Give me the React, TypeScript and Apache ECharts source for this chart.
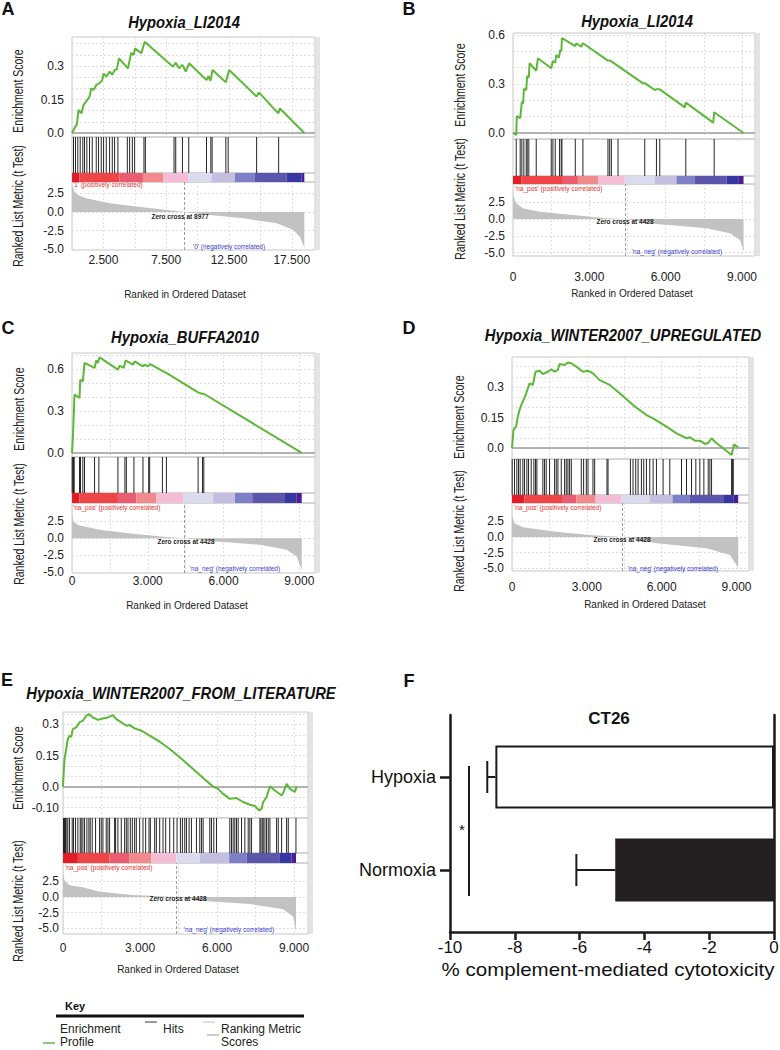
import React, { useEffect, useRef } from "react";
import * as echarts from "echarts";

const FONT = "'Liberation Sans', Arial, Helvetica, sans-serif";

// ================= DATA =================
// Panel A - Hypoxia_LI2014 ('1' vs '0')
const esA: number[][] = [
  [0, 0], [255, 0.028], [383, 0.036], [519, 0.103], [758, 0.088], [918, 0.125], [1213, 0.148], [1397, 0.163],
  [1532, 0.2], [1740, 0.193], [1931, 0.215], [2195, 0.223], [2410, 0.237], [2514, 0.267], [2729, 0.252],
  [2993, 0.275], [3208, 0.26], [3392, 0.282], [3575, 0.285], [3735, 0.334], [4453, 0.29], [4725, 0.36],
  [4908, 0.349], [5012, 0.379], [5523, 0.357], [5786, 0.409], [8045, 0.297], [8260, 0.315], [8523, 0.29],
  [8795, 0.305], [9058, 0.275], [9322, 0.312], [10710, 0.237], [10870, 0.255], [11030, 0.234], [11189, 0.282],
  [12251, 0.227], [12514, 0.282], [14701, 0.163], [14884, 0.182], [16425, 0.088], [16560, 0.11], [18500, 0],
];
const hitsA = [120, 279, 463, 654, 862, 998, 1181, 1397, 1612, 1931, 2115, 2330, 2514, 2729, 2993, 3208, 3392,
  3655, 4405, 4589, 4804, 4988, 5730, 5842, 8124, 8260, 8795, 9298, 10710, 11054, 11157, 12251, 12434, 14701, 16456];
const metricA: number[][] = [
  [0, 3.65], [200, 2.74], [460, 2.3], [1130, 1.85], [3000, 1.17], [5650, 0.63], [8977, 0], [10970, -0.4],
  [13630, -0.85], [16300, -1.53], [17620, -2.43], [18150, -3.33], [18420, -4.45], [18500, -4.9],
];
const colorBreaksA = [0, 599, 3791, 5650, 7247, 9242, 11110, 12969, 14565, 17095, 18292, 18500];
const zeroCrossA = 8977;

// Panel B - Hypoxia_LI2014 (na_pos vs na_neg)
const esB: number[][] = [
  [0, 0], [126, -0.012], [150, 0.104], [283, 0.09], [348, 0.19], [400, 0.18], [426, 0.27], [520, 0.263],
  [558, 0.349], [622, 0.34], [650, 0.427], [913, 0.381], [978, 0.457], [1503, 0.396], [1568, 0.44], [1660, 0.43],
  [1700, 0.477], [1805, 0.461], [1858, 0.508], [1900, 0.5], [1923, 0.58], [2448, 0.532], [2488, 0.549],
  [2684, 0.528], [2748, 0.549], [3732, 0.443], [3799, 0.443], [3865, 0.438], [5110, 0.304], [5177, 0.305],
  [5571, 0.263], [5637, 0.268], [5768, 0.267], [6752, 0.157], [6791, 0.186], [7866, 0.063], [7906, 0.127], [9060, 0],
];
const hitsB = [126, 283, 348, 426, 520, 558, 622, 913, 1503, 1568, 1660, 1830, 1896, 1923, 2448, 2748, 3732, 3799,
  3865, 4127, 5177, 5637, 5768, 6791, 7906];
const metricB: number[][] = [
  [0, 3.57], [126, 2.33], [386, 1.59], [1043, 1.09], [2354, 0.6], [3669, 0.1], [4428, 0], [5637, -0.74],
  [7606, -1.38], [8524, -2.13], [8917, -3.12], [9047, -4.6], [9060, -5.0],
];
const colorBreaksB = [0, 323, 1961, 2551, 3339, 4390, 5571, 6425, 7146, 8394, 8850, 9060];
const zeroCrossB = 4428;

// Panel C - Hypoxia_BUFFA2010
const esC: number[][] = [
  [0, 0], [33, 0.107], [60, 0.226], [99, 0.416], [298, 0.393], [325, 0.523], [429, 0.511], [496, 0.643],
  [893, 0.607], [960, 0.661], [1025, 0.643], [1091, 0.683], [1818, 0.595], [1885, 0.623], [2044, 0.607],
  [2123, 0.661], [2414, 0.63], [2480, 0.654], [2810, 0.619], [2870, 0.63], [3008, 0.619], [3103, 0.635],
  [3540, 0.59], [3603, 0.583], [3700, 0.575], [4992, 0.433], [5127, 0.423], [5218, 0.423], [9095, 0],
];
const hitsC = [8, 33, 60, 87, 298, 337, 429, 496, 893, 1064, 1818, 2095, 2151, 2452, 2810, 3036, 3075, 3579, 3738,
  4992, 5167, 5218];
const metricC: number[][] = [
  [0, 3.45], [60, 2.47], [230, 1.98], [1091, 1.25], [2413, 0.66], [3738, 0.18], [4428, 0], [5722, -0.47],
  [7440, -0.96], [8500, -1.69], [8897, -2.67], [9067, -4.38], [9095, -4.8],
];
const colorBreaksC = [0, 298, 1818, 2548, 3341, 4397, 5587, 6448, 7135, 8433, 8897, 9095];
const zeroCrossC = 4428;

// Panel D - Hypoxia_WINTER2007_UPREGULATED
const esD: number[][] = [
  [0, 0], [32, 0.048], [60, 0.089], [169, 0.108], [233, 0.154], [301, 0.187], [369, 0.211], [462, 0.236],
  [570, 0.269], [703, 0.318], [835, 0.31], [944, 0.375], [1104, 0.38], [1237, 0.364], [1438, 0.375],
  [1574, 0.387], [1707, 0.375], [1839, 0.384], [1908, 0.413], [2108, 0.408], [2241, 0.42], [2378, 0.417],
  [2578, 0.4], [2843, 0.375], [3044, 0.38], [3245, 0.367], [3514, 0.334], [3916, 0.31], [4317, 0.269],
  [4851, 0.211], [5390, 0.162], [5655, 0.146], [6193, 0.105], [6594, 0.072], [6996, 0.048], [7129, 0.053],
  [7329, 0.036], [7530, 0.036], [7731, 0.02], [7865, 0.025], [8000, 0.048], [8133, 0.031], [8803, -0.034],
  [8896, 0.018], [9068, 0.003],
];
const hitsD = [8, 100, 194, 262, 328, 435, 502, 596, 663, 770, 877, 944, 997, 1238, 1305, 1372, 1506, 1707, 1774,
  1841, 1975, 2108, 2175, 2242, 2309, 2377, 2778, 2871, 2979, 3046, 3245, 3313, 3808, 3849, 4746, 4852, 4960, 5054,
  5187, 5281, 5389, 5522, 5656, 5790, 6057, 6325, 6794, 6995, 7196, 7369, 7530, 7691, 7865, 7932, 7999, 8802, 8842, 8869];
const metricD: number[][] = [
  [0, 3.5], [100, 2.18], [434, 1.54], [1775, 0.84], [3112, 0.32], [4428, 0], [5791, -1.0], [7799, -1.8],
  [8735, -2.86], [9044, -4.72], [9068, -5.0],
];
const colorBreaksD = [0, 502, 2040, 2578, 3353, 4386, 5522, 6434, 7129, 8466, 8868, 9068];
const zeroCrossD = 4428;

// Panel E - Hypoxia_WINTER2007_FROM_LITERATURE
const esE: number[][] = [
  [0, 0], [20, 0.054], [59, 0.134], [125, 0.182], [187, 0.23], [254, 0.246], [320, 0.24], [382, 0.278],
  [515, 0.286], [644, 0.31], [773, 0.318], [905, 0.342], [1007, 0.35], [1163, 0.334], [1358, 0.322],
  [1553, 0.329], [1748, 0.334], [1943, 0.345], [2076, 0.326], [2271, 0.31], [2466, 0.294], [2595, 0.297],
  [2790, 0.281], [3051, 0.27], [3375, 0.246], [3765, 0.217], [4155, 0.182], [4545, 0.142], [5065, 0.086],
  [5455, 0.042], [5845, 0.001], [6040, -0.01], [6235, -0.034], [6496, -0.058], [6758, -0.054], [7015, -0.073],
  [7277, -0.086], [7472, -0.092], [7640, -0.114], [7733, -0.105], [7796, -0.073], [7928, -0.049], [8057, 0.003],
  [8252, -0.018], [8513, -0.042], [8576, -0.029], [8709, 0.014], [8837, -0.01], [8942, -0.018], [9032, -0.025],
  [9098, 0.003],
];
const hitsE = [20, 59, 98, 150, 189, 254, 358, 410, 488, 579, 670, 709, 774, 839, 930, 1008, 1060, 1138, 1268, 1424,
  1489, 1554, 1684, 1749, 1814, 2009, 2048, 2139, 2269, 2399, 2465, 2530, 2621, 2699, 2790, 2855, 2985, 3115, 3218,
  3349, 3401, 3570, 3635, 3765, 3895, 3999, 4155, 4311, 4441, 4572, 4650, 4741, 4806, 4910, 5001, 5196, 5325, 5391,
  5456, 5716, 5781, 5872, 5976, 6496, 6561, 6626, 6691, 6756, 6821, 6951, 7081, 7211, 7276, 7342, 7667, 7706, 7758,
  7797, 7862, 7927, 7992, 8057, 8317, 8382, 8512, 8707, 8772, 9071];
const metricE: number[][] = [
  [0, 3.9], [59, 2.7], [254, 1.9], [774, 1.55], [1424, 0.85], [2723, 0.32], [4026, 0.1], [4428, 0],
  [5326, -0.6], [7277, -1.12], [8576, -1.97], [8966, -3.15], [9072, -5.5],
];
const colorBreaksE = [0, 578, 1814, 2595, 3441, 4417, 5326, 6470, 7148, 8447, 8904, 9072];
const zeroCrossE = 4428;

const gseaTitles = ["Hypoxia_LI2014", "Hypoxia_LI2014", "Hypoxia_BUFFA2010", "Hypoxia_WINTER2007_UPREGULATED",
  "Hypoxia_WINTER2007_FROM_LITERATURE"];
const panelLetters = ["A", "B", "C", "D", "E"];
const esTickLabelsA = [0, 0.15, 0.3];
const esTickLabelsB = [0, 0.3, 0.6];
const esTickLabelsC = [0, 0.3, 0.6];
const esTickLabelsD = [0, 0.15, 0.3];
const esTickLabelsE = [-0.1, 0, 0.15, 0.3];
const metricTickLabels = [-5, -2.5, 0, 2.5];
const rankTickLabelsA = [2500, 7500, 12500, 17500];
const rankTickLabels = [0, 3000, 6000, 9000];

// Panel F - CT26
const fCategories = ["Hypoxia", "Normoxia"];
const fMeans = [-8.6, -4.9];
const fSem = [0.25, 1.2];

// ================= LAYOUT / STYLE =================
const GREEN = "#5db83a";
const CB_COLORS = ["#e31d25", "#ef4547", "#ea5d70", "#f28a8c", "#f5bcd6", "#dcdbee", "#c4bee0", "#7d80c6",
  "#5b56ab", "#3737a3", "#4b1e96"];
const GRID_BORDER = "#c8c8c8";
const GRID_LINE = { color: "#dedede", type: [2, 2], width: 1 };

const PANELS = [
  { es: esA, hits: hitsA, metric: metricA, cb: colorBreaksA, zc: zeroCrossA, esLabels: esTickLabelsA, xLabels: rankTickLabelsA, pos: "'1' (positively correlated)", neg: "'0' (negatively correlated)" },
  { es: esB, hits: hitsB, metric: metricB, cb: colorBreaksB, zc: zeroCrossB, esLabels: esTickLabelsB, xLabels: rankTickLabels, pos: "'na_pos' (positively correlated)", neg: "'na_neg' (negatively correlated)" },
  { es: esC, hits: hitsC, metric: metricC, cb: colorBreaksC, zc: zeroCrossC, esLabels: esTickLabelsC, xLabels: rankTickLabels, pos: "'na_pos' (positively correlated)", neg: "'na_neg' (negatively correlated)" },
  { es: esD, hits: hitsD, metric: metricD, cb: colorBreaksD, zc: zeroCrossD, esLabels: esTickLabelsD, xLabels: rankTickLabels, pos: "'na_pos' (positively correlated)", neg: "'na_neg' (negatively correlated)" },
  { es: esE, hits: hitsE, metric: metricE, cb: colorBreaksE, zc: zeroCrossE, esLabels: esTickLabelsE, xLabels: rankTickLabels, pos: "'na_pos' (positively correlated)", neg: "'na_neg' (negatively correlated)" },
];

const LAYOUT = [
  { left: 72, right: 315, esTop: 37, esBot: 137, cbTop: 173, cbBot: 182, metBot: 250, esMin: -0.018, esMax: 0.43, esStep: 0.05, metMin: -5.13, metMax: 4.05, xMax: 19350, xStep: 2500, xMargin: 4, yMargin: 8,
    letter: [8, 9], title: [184, 22], esName: [18, 91], metName: [18, 206], xName: [185, 294], posT: [73, 184.5], zcT: [180, 216], negT: [229, 246] },
  { left: 513, right: 755, esTop: 33, esBot: 139, cbTop: 176, cbBot: 184, metBot: 256, esMin: -0.037, esMax: 0.612, esStep: 0.1, metMin: -5.5, metMax: 5.2, xMax: 9510, xStep: 1500, xMargin: 15, yMargin: 8,
    letter: [409, 9], title: [637, 21], esName: [460, 85], metName: [460, 199], xName: [632, 293], posT: [515, 188.5], zcT: [625, 221], negT: [677, 251] },
  { left: 72, right: 315, esTop: 353, esBot: 457, cbTop: 493, cbBot: 503, metBot: 573, esMin: -0.029, esMax: 0.714, esStep: 0.1, metMin: -5.1, metMax: 5.2, xMax: 9620, xStep: 1500, xMargin: 2, yMargin: 8,
    letter: [8, 328], title: [185, 337], esName: [19, 409], metName: [19, 524], xName: [187, 605], posT: [73, 507], zcT: [186, 541], negT: [235, 568] },
  { left: 512, right: 749, esTop: 357, esBot: 459, cbTop: 495, cbBot: 503, metBot: 571, esMin: -0.054, esMax: 0.4475, esStep: 0.05, metMin: -5.4, metMax: 5.4, xMax: 9500, xStep: 1500, xMargin: 10, yMargin: 8,
    letter: [409, 328], title: [623, 335], esName: [459, 417], metName: [459, 531], xName: [645, 604], posT: [514, 507.5], zcT: [622, 539.5], negT: [673, 568] },
  { left: 63, right: 308, esTop: 712, esBot: 818, cbTop: 853, cbBot: 863, metBot: 934, esMin: -0.15, esMax: 0.36, esStep: 0.05, metMin: -5.92, metMax: 5.44, xMax: 9540, xStep: 1500, xMargin: 8, yMargin: 4,
    letter: [7, 680], title: [181, 693], esName: [18, 768], metName: [18, 901], xName: [178, 969], posT: [65, 867], zcT: [178, 898], negT: [229, 929.5] },
];

// ================= HELPERS =================
function fmtRank(v: number) {
  if (v === 0) return "0";
  return String(Math.round(v)).replace(/\B(?=(\d{3})+(?!\d))/g, ".");
}
function fmtES(v: number) {
  const r = Math.round(v * 100) / 100;
  if (r === 0) return "0.0";
  if (r === -0.1) return "-0.10";
  return String(r);
}
function fmtMetric(v: number) {
  return (Math.round(v * 10) / 10).toFixed(1);
}
function gridSteps(min: number, max: number, step: number) {
  const out: number[] = [];
  const start = Math.ceil(min / step - 1e-6);
  for (let k = start; k * step <= max + 1e-9; k++) out.push(Math.round(k * step * 10000) / 10000);
  return out;
}
function txt(text: string, x: number, y: number, o: any = {}) {
  const align = o.align || "center";
  return {
    type: "text", x, y, rotation: o.rot || 0, scaleX: o.sx || 1, silent: true, z: 50,
    style: {
      text, fontSize: o.fs || 12, fontFamily: FONT, fontWeight: o.fw || "normal", fontStyle: o.it ? "italic" : "normal",
      fill: o.color || "#111", textAlign: align, align, textVerticalAlign: "middle", verticalAlign: "middle",
    },
  };
}
function ln(x1: number, y1: number, x2: number, y2: number, stroke: string, lineWidth: number) {
  return { type: "line", silent: true, z: 50, shape: { x1, y1, x2, y2 }, style: { stroke, lineWidth } };
}

function buildOption() {
  const grid: any[] = [];
  const xAxis: any[] = [];
  const yAxis: any[] = [];
  const series: any[] = [];
  const elements: any[] = [];

  PANELS.forEach((p, i) => {
    const L = LAYOUT[i];
    const w = L.right - L.left;
    const rows = [[L.esTop, L.esBot], [L.esBot, L.cbTop], [L.cbTop, L.cbBot], [L.cbBot, L.metBot]];
    rows.forEach(([t, b]) =>
      grid.push({ left: L.left, top: t, width: w, height: b - t, show: true, borderColor: GRID_BORDER, borderWidth: 1, backgroundColor: "transparent", containLabel: false, outerBoundsMode: "none" })
    );
    const gi = i * 4;
    for (let k = 0; k < 4; k++) {
      xAxis.push({
        type: "value", gridIndex: gi + k, min: 0, max: L.xMax, interval: L.xStep,
        axisLine: { show: false, onZero: false }, axisTick: { show: false },
        axisLabel: k === 3
          ? { show: true, customValues: p.xLabels, formatter: fmtRank, fontSize: 12, color: "#222", fontFamily: FONT, margin: L.xMargin }
          : { show: false },
        splitLine: { show: k === 0 || k === 3, lineStyle: GRID_LINE },
      });
    }
    yAxis.push({
      type: "value", gridIndex: gi, min: L.esMin, max: L.esMax,
      axisLine: { show: false, onZero: false },
      axisTick: { show: false, customValues: gridSteps(L.esMin, L.esMax, L.esStep) },
      axisLabel: { customValues: p.esLabels, formatter: fmtES, fontSize: 12, color: "#222", fontFamily: FONT, margin: L.yMargin },
      splitLine: { show: true, lineStyle: GRID_LINE },
    });
    yAxis.push({ type: "value", gridIndex: gi + 1, min: 0, max: 1, show: false });
    yAxis.push({ type: "value", gridIndex: gi + 2, min: 0, max: 1, show: false });
    yAxis.push({
      type: "value", gridIndex: gi + 3, min: L.metMin, max: L.metMax,
      axisLine: { show: false, onZero: false },
      axisTick: { show: false, customValues: metricTickLabels },
      axisLabel: { customValues: metricTickLabels, formatter: fmtMetric, fontSize: 12, color: "#222", fontFamily: FONT, margin: L.yMargin },
      splitLine: { show: true, lineStyle: GRID_LINE },
    });

    // enrichment score
    series.push({
      type: "line", xAxisIndex: gi, yAxisIndex: gi, data: p.es, showSymbol: false, symbol: "none", z: 5,
      lineStyle: { color: GREEN, width: 2 },
      markLine: { silent: true, symbol: ["none", "none"], label: { show: false }, lineStyle: { color: "#9c9c9c", width: 1.5, type: "solid" }, data: [{ yAxis: 0 }] },
    });
    // hits
    series.push({
      type: "custom", xAxisIndex: gi + 1, yAxisIndex: gi + 1, data: p.hits.map((r) => [r, 0, 1]), encode: { x: 0, y: [1, 2] },
      renderItem: (params: any, api: any) => {
        const a = api.coord([api.value(0), api.value(1)]);
        const b = api.coord([api.value(0), api.value(2)]);
        return { type: "line", shape: { x1: a[0], y1: a[1], x2: b[0], y2: b[1] }, style: { stroke: "#262626", lineWidth: 1 } };
      },
    });
    // colour bar
    const segs = p.cb.slice(0, -1).map((s, k) => [s, p.cb[k + 1], 0, 1]);
    series.push({
      type: "custom", xAxisIndex: gi + 2, yAxisIndex: gi + 2, data: segs, encode: { x: [0, 1], y: [2, 3] },
      renderItem: (params: any, api: any) => {
        const a = api.coord([api.value(0), api.value(3)]);
        const b = api.coord([api.value(1), api.value(2)]);
        return { type: "rect", shape: { x: a[0], y: a[1], width: b[0] - a[0], height: b[1] - a[1] }, style: { fill: CB_COLORS[params.dataIndex] } };
      },
    });
    // ranked list metric
    series.push({
      type: "line", xAxisIndex: gi + 3, yAxisIndex: gi + 3, data: p.metric, showSymbol: false, symbol: "none",
      lineStyle: { width: 0, color: "#c2c2c2" }, areaStyle: { color: "#c2c2c2", opacity: 1 },
      markLine: { silent: true, symbol: ["none", "none"], label: { show: false }, lineStyle: { color: "#a0a0a0", width: 1, type: [3, 2] }, data: [{ xAxis: p.zc }] },
    });

    // texts
    elements.push(txt(panelLetters[i], L.letter[0], L.letter[1], { fs: 18, fw: "bold", color: "#111" }));
    elements.push(txt(gseaTitles[i], L.title[0], L.title[1], { fs: 17, fw: "bold", it: true, sx: 0.87, color: "#111" }));
    elements.push(txt("Enrichment Score", L.esName[0], L.esName[1], { fs: 14, sx: 0.75, rot: Math.PI / 2, color: "#222" }));
    elements.push(txt("Ranked List Metric (t Test)", L.metName[0], L.metName[1], { fs: 14, sx: 0.75, rot: Math.PI / 2, color: "#222" }));
    elements.push(txt("Ranked in Ordered Dataset", L.xName[0], L.xName[1], { fs: 10, color: "#222" }));
    elements.push(txt(p.pos, L.posT[0], L.posT[1], { fs: 6.5, align: "left", color: "#e8302c" }));
    elements.push(txt("Zero cross at " + p.zc, L.zcT[0], L.zcT[1], { fs: 6.5, fw: "bold", color: "#222" }));
    elements.push(txt(p.neg, L.negT[0], L.negT[1], { fs: 6.5, color: "#3b3bc8" }));
    elements.push({ type: "rect", silent: true, z: 1, shape: { x: L.right + 1, y: L.esTop, width: 4, height: L.metBot - L.esTop }, style: { fill: "#e4e4e4" } });
  });

  // ---------- Panel F ----------
  const FG = 20;
  const axisStroke = { color: "#1a1a1a", width: 2.5 };
  grid.push({ left: 450, top: 715, width: 324, height: 217, containLabel: false, outerBoundsMode: "none" });
  grid.push({ left: 450, top: 730.5, width: 324, height: 186, containLabel: false, outerBoundsMode: "none" });
  xAxis.push({
    type: "value", gridIndex: FG, min: -10, max: 0, interval: 2,
    axisLine: { show: true, onZero: false, lineStyle: axisStroke },
    axisTick: { show: true, length: 8, lineStyle: axisStroke },
    axisLabel: { fontSize: 17, color: "#111", fontFamily: FONT, margin: 7 },
    splitLine: { show: false },
  });
  xAxis.push({ type: "value", gridIndex: FG + 1, min: -10, max: 0, show: false });
  yAxis.push({ type: "value", gridIndex: FG, min: 0, max: 1, axisLine: { show: true, onZero: false, lineStyle: axisStroke }, axisTick: { show: false }, axisLabel: { show: false }, splitLine: { show: false } });
  yAxis.push({
    type: "category", gridIndex: FG + 1, data: fCategories, inverse: true,
    axisLine: { show: false, onZero: false },
    axisTick: { show: true, alignWithLabel: true, length: 10, lineStyle: axisStroke },
    axisLabel: { fontSize: 18, color: "#111", fontFamily: FONT, margin: 14 },
    splitLine: { show: false },
  });
  yAxis.push({ type: "value", gridIndex: FG, position: "right", min: 0, max: 1, axisLine: { show: true, onZero: false, lineStyle: axisStroke }, axisTick: { show: false }, axisLabel: { show: false }, splitLine: { show: false } });

  series.push({
    type: "bar", xAxisIndex: FG + 1, yAxisIndex: FG + 1, barWidth: 63,
    data: [
      { value: fMeans[0], itemStyle: { color: "#ffffff", borderColor: "#1a1a1a", borderWidth: 2 } },
      { value: fMeans[1], itemStyle: { color: "#231f20" } },
    ],
  });
  series.push({
    type: "custom", xAxisIndex: FG + 1, yAxisIndex: FG + 1, z: 10,
    data: fMeans.map((m, k) => [m, k, m - fSem[k]]), encode: { x: [0, 2], y: 1 },
    renderItem: (params: any, api: any) => {
      const a = api.coord([api.value(0), api.value(1)]);
      const b = api.coord([api.value(2), api.value(1)]);
      return {
        type: "group",
        children: [
          { type: "line", shape: { x1: a[0], y1: a[1], x2: b[0], y2: b[1] }, style: { stroke: "#1a1a1a", lineWidth: 2 } },
          { type: "line", shape: { x1: b[0], y1: b[1] - 16, x2: b[0], y2: b[1] + 16 }, style: { stroke: "#1a1a1a", lineWidth: 2 } },
        ],
      };
    },
  });
  elements.push(txt("F", 409, 681, { fs: 18, fw: "bold", color: "#111" }));
  elements.push(txt("CT26", 609, 718, { fs: 17, fw: "bold", color: "#111" }));
  elements.push(ln(469, 766, 469, 896, "#1a1a1a", 2));
  elements.push(txt("*", 462, 829, { fs: 15, color: "#111" }));
  elements.push(txt("% complement-mediated cytotoxicity", 608, 970, { fs: 18, sx: 1.14, color: "#111" }));

  // ---------- Key ----------
  elements.push(txt("Key", 65, 1006, { fs: 11, fw: "bold", align: "left", color: "#111" }));
  elements.push(ln(56, 1016, 304, 1016, "#111", 3));
  elements.push(txt("Enrichment", 60, 1029, { fs: 12, align: "left", color: "#222" }));
  elements.push(txt("Profile", 60, 1042, { fs: 12, align: "left", color: "#222" }));
  elements.push(ln(43, 1043, 55, 1043, "#8cc97a", 2));
  elements.push(ln(145, 1022, 157, 1022, "#333", 1));
  elements.push(txt("Hits", 163, 1029, { fs: 12, align: "left", color: "#222" }));
  elements.push(ln(203, 1022, 215, 1022, "#bbbbbb", 1));
  elements.push(ln(207, 1035, 219, 1035, "#999999", 1));
  elements.push(txt("Ranking Metric", 221, 1029, { fs: 12, align: "left", color: "#222" }));
  elements.push(txt("Scores", 221, 1042, { fs: 12, align: "left", color: "#222" }));

  return {
    animation: false,
    backgroundColor: "#ffffff",
    textStyle: { fontFamily: FONT },
    grid, xAxis, yAxis, series,
    graphic: { elements },
  };
}

export default function App() {
  const ref = useRef<HTMLDivElement>(null);
  useEffect(() => {
    if (!ref.current) return;
    const chart = echarts.init(ref.current, null, { renderer: "svg" });
    chart.setOption(buildOption() as any);
    return () => chart.dispose();
  }, []);
  return <div ref={ref} style={{ position: "absolute", left: 0, top: 0, width: 780, height: 1050 }} />;
}
